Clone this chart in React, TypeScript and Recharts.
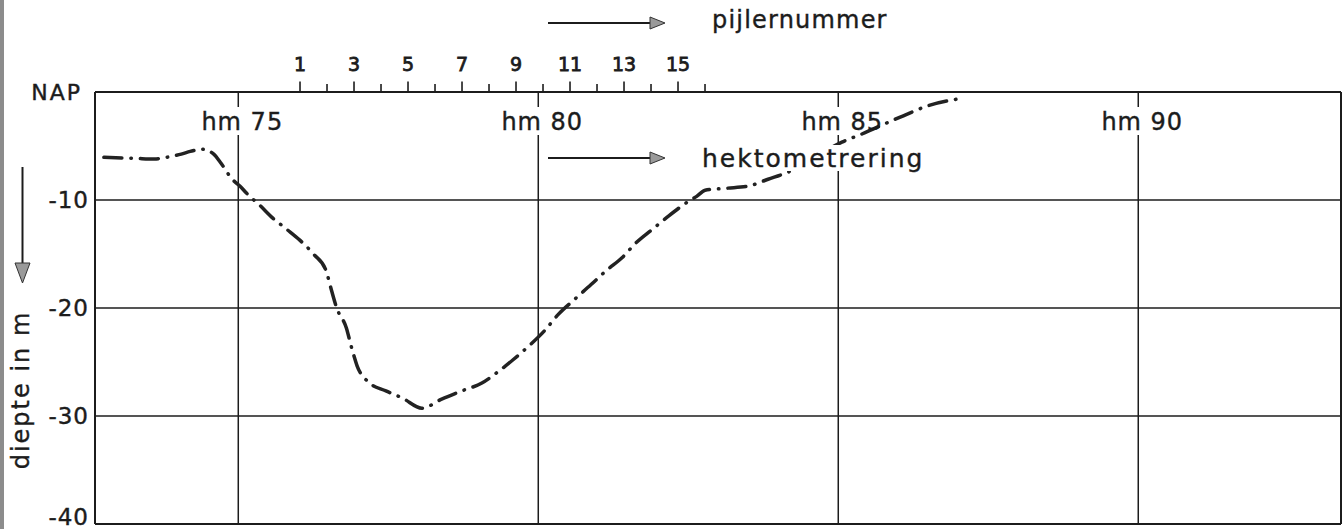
import React from "react";
import { LineChart, Line, XAxis, YAxis, CartesianGrid } from "recharts";

// ---- data ----
const hektometer = [
  72.76, 73.3, 73.6, 73.85, 74.05, 74.2, 74.4, 74.6, 74.7, 74.9, 75.03, 75.14, 75.36, 75.58,
  75.81, 76.03, 76.26, 76.46, 76.55, 76.64, 76.8, 76.89, 76.98, 77.17, 77.46, 77.74, 78.06,
  78.39, 78.73, 79.06, 79.33, 79.58, 79.83, 80.11, 80.33, 80.6, 80.88, 81.14, 81.4, 81.63,
  81.9, 82.17, 82.48, 82.64, 82.78, 83.14, 83.49, 83.83, 84.16, 84.61, 85.06, 85.39, 85.88,
  86.19, 86.48, 86.99,
];
const diepte = [
  -6.05, -6.15, -6.2, -6.0, -5.75, -5.5, -5.3, -5.8, -6.5, -8.08, -8.73, -9.38, -10.5, -11.7,
  -12.72, -13.74, -15.04, -16.5, -18.29, -19.99, -21.82, -23.7, -25.35, -26.86, -27.67, -28.35,
  -29.28, -28.44, -27.67, -26.95, -25.9, -24.79, -23.58, -22.07, -20.61, -19.22, -17.83, -16.5,
  -15.32, -13.96, -12.72, -11.49, -10.21, -9.66, -9.1, -8.91, -8.73, -8.08, -7.43, -6.04, -4.64,
  -3.9, -2.69, -1.95, -1.3, -0.65,
];
const hmTicks = [75, 80, 85, 90];
const hmDomain = [72.612, 93.379];
const pillarTicks = [1, 2, 3, 4, 5, 6, 7, 8, 9, 10, 11, 12, 13, 14, 15, 16];
const pillarDomain = [-6.593, 39.555];
const depthTicks = [-40, -30, -20, -10, 0];
const depthDomain = [-40, 0];

const chartData = hektometer.map((h, i) => ({ hm: h, depth: diepte[i] }));

// ---- layout ----
const W = 1343;
const H = 529;
const PLOT_TOP = 92;
const FONT = "'DejaVu Sans', sans-serif";
const INK = "#1c1c1c";

const PillarTick = (p: any) => {
  const v = p.payload.value;
  const odd = v % 2 === 1;
  return (
    <g>
      <line x1={p.x} x2={p.x} y1={PLOT_TOP} y2={PLOT_TOP - (odd ? 10.5 : 8)} stroke={INK} strokeWidth={1.6} />
      {odd && (
        <text x={p.x} y={71} textAnchor="middle" fontFamily={FONT} fontSize={19} fill={INK} stroke={INK} strokeWidth={0.8}>
          {v}
        </text>
      )}
    </g>
  );
};

const HmTick = (p: any) => {
  const v = p.payload.value;
  return (
    <g>
      <rect x={p.x - 4} y={107} width={8} height={28} fill="#fff" />
      <text x={p.x + 4} y={130} textAnchor="middle" fontFamily={FONT} fontSize={24} letterSpacing={1} fill={INK} stroke={INK} strokeWidth={0.4}>
        {`hm ${v}`}
      </text>
    </g>
  );
};

const DepthTick = (p: any) => {
  const v = p.payload.value;
  if (v === 0) {
    return (
      <text x={82} y={p.y} dy={8} textAnchor="end" fontFamily={FONT} fontSize={22} letterSpacing={2} fill={INK} stroke={INK} strokeWidth={0.4}>
        NAP
      </text>
    );
  }
  return (
    <text x={89} y={p.y} dy={v === -40 ? 1 : 8} textAnchor="end" fontFamily={FONT} fontSize={23} letterSpacing={1} fill={INK} stroke={INK} strokeWidth={0.4}>
      {`${v}`}
    </text>
  );
};

export default function App() {
  return (
    <div style={{ position: "absolute", left: 0, top: 0, width: W, height: H, background: "#fff" }}>
      <LineChart width={W} height={H} data={chartData} margin={{ top: 0, right: 0, bottom: 0, left: 0 }}>
        <CartesianGrid xAxisId="hm" yAxisId="left" stroke={INK} strokeWidth={1.5} strokeDasharray="" horizontal vertical />
        <XAxis
          xAxisId="pil"
          dataKey="hm"
          orientation="top"
          type="number"
          domain={pillarDomain}
          allowDataOverflow
          ticks={pillarTicks}
          height={92}
          tickLine={false}
          axisLine={{ stroke: INK, strokeWidth: 2 }}
          tick={(p: any) => <PillarTick {...p} />}
          interval={0}
        />
        <XAxis
          xAxisId="hm"
          dataKey="hm"
          orientation="bottom"
          type="number"
          domain={hmDomain}
          allowDataOverflow
          ticks={hmTicks}
          height={5}
          tickLine={false}
          axisLine={{ stroke: INK, strokeWidth: 2 }}
          tick={(p: any) => <HmTick {...p} />}
          interval={0}
        />
        <YAxis
          yAxisId="left"
          type="number"
          domain={depthDomain}
          ticks={depthTicks}
          width={95}
          tickLine={false}
          axisLine={{ stroke: INK, strokeWidth: 2 }}
          tick={(p: any) => <DepthTick {...p} />}
          interval={0}
        />
        <YAxis
          yAxisId="right"
          orientation="right"
          type="number"
          domain={depthDomain}
          width={2}
          tick={false}
          tickLine={false}
          axisLine={{ stroke: INK, strokeWidth: 2 }}
        />
        <Line
          xAxisId="hm"
          yAxisId="left"
          type="monotone"
          dataKey="depth"
          stroke="#222"
          strokeWidth={3.5}
          strokeDasharray="18 9 0.5 9"
          strokeLinecap="round"
          dot={false}
          isAnimationActive={false}
        />
      </LineChart>
      <svg
        width={W}
        height={H}
        style={{ position: "absolute", left: 0, top: 0, pointerEvents: "none" }}
      >
        <rect x={0} y={0} width={4} height={H} fill="#8c8c8c" />
        {/* pijlernummer arrow */}
        <line x1={548} y1={23} x2={652} y2={23} stroke={INK} strokeWidth={2} />
        <polygon points="650,17 665,23 650,29" fill="#9a9a9a" stroke="#333" strokeWidth={1} />
        <text x={712} y={28} fontFamily={FONT} fontSize={24} letterSpacing={1.2} fill={INK} stroke={INK} strokeWidth={0.4}>
          pijlernummer
        </text>
        {/* hektometrering arrow */}
        <line x1={548} y1={158} x2={652} y2={158} stroke={INK} strokeWidth={2} />
        <polygon points="650,152 665,158 650,164" fill="#9a9a9a" stroke="#333" strokeWidth={1} />
        <rect x={698} y={145} width={232} height={26} fill="#fff" />
        <text x={702} y={167} fontFamily={FONT} fontSize={25} letterSpacing={2} fill={INK} stroke={INK} strokeWidth={0.4}>
          hektometrering
        </text>
        {/* depth arrow and label */}
        <line x1={22.5} y1={167} x2={22.5} y2={265} stroke={INK} strokeWidth={2} />
        <polygon points="15,263 30,263 22.5,283" fill="#9a9a9a" stroke="#333" strokeWidth={1} />
        <text
          x={0}
          y={0}
          transform="translate(29,390) rotate(-90)"
          textAnchor="middle"
          fontFamily={FONT}
          fontSize={24}
          letterSpacing={2}
          fill={INK}
          stroke={INK}
          strokeWidth={0.4}
        >
          diepte in m
        </text>
      </svg>
    </div>
  );
}
